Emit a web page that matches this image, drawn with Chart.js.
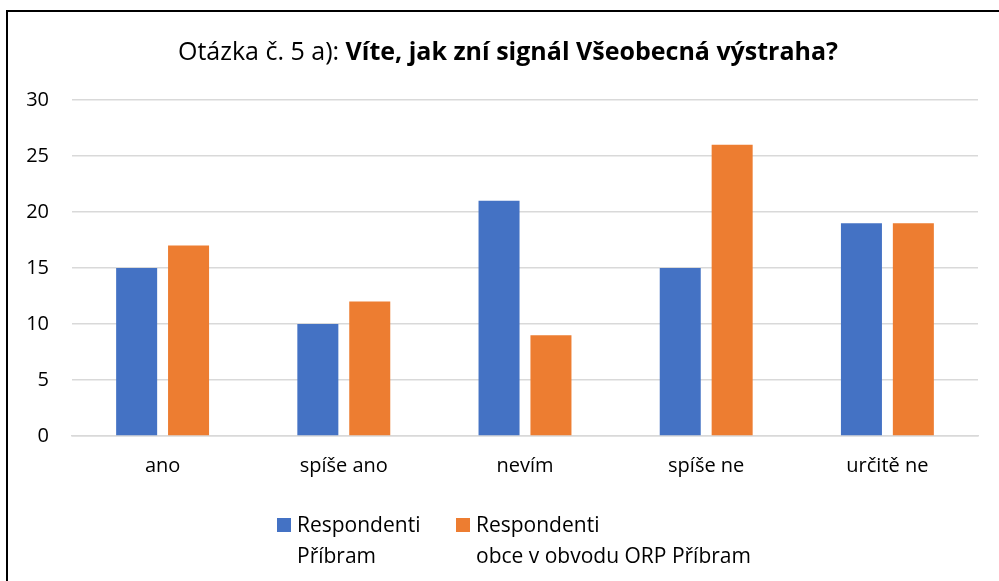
<!DOCTYPE html>
<html>
<head>
<meta charset="utf-8">
<script src="https://cdn.jsdelivr.net/npm/chart.js@4/dist/chart.umd.min.js"></script>
<style>
  html, body { margin: 0; padding: 0; background: #fff; }
  body { width: 999px; height: 581px; position: relative; overflow: hidden; font-family: "Open Sans", sans-serif; color: #000; }
  #frame { position: absolute; left: 6px; top: 10px; width: 1100px; height: 700px; border-left: 2px solid #000; border-top: 2px solid #000; }
  #wrap { position: absolute; left: 0; top: 0; width: 999px; height: 581px; }
  #title { position: absolute; left: 8px; width: 1000px; top: 33px; text-align: center; font-size: 25px; white-space: nowrap; }
  #title b { font-weight: bold; }
  .leg { position: absolute; top: 509px; font-size: 21px; line-height: 31px; white-space: nowrap; }
  .leg span.box { position: absolute; left: -20px; top: 9px; width: 14px; height: 14px; }
</style>
</head>
<body>
<div id="frame"></div>
<div id="wrap"><canvas id="barChart"></canvas></div>
<div id="title">Otázka č. 5 a): <b>Víte, jak zní signál Všeobecná výstraha?</b></div>
<div class="leg" style="left:297px"><span class="box" style="background:#4472C4"></span>Respondenti<br>Příbram</div>
<div class="leg" style="left:476px"><span class="box" style="background:#ED7D31"></span>Respondenti<br>obce v obvodu ORP Příbram</div>
<script>
var categories = ['ano', 'spíše ano', 'nevím', 'spíše ne', 'určitě ne'];
var seriesNames = ['Respondenti Příbram', 'Respondenti obce v obvodu ORP Příbram'];
var pribram = [15, 10, 21, 15, 19];
var obce = [17, 12, 9, 26, 19];
var yTicks = [0, 5, 10, 15, 20, 25, 30];

Chart.defaults.font.family = '"Open Sans", sans-serif';
Chart.defaults.color = '#000';

var ctx = document.getElementById('barChart').getContext('2d');
var barChart = new Chart(ctx, {
    type: 'bar',
    data: {
        labels: categories,
        datasets: [{
            label: seriesNames[0],
            data: pribram,
            backgroundColor: '#4472C4',
            barPercentage: 0.79,
            categoryPercentage: 0.573
        }, {
            label: seriesNames[1],
            data: obce,
            backgroundColor: '#ED7D31',
            barPercentage: 0.79,
            categoryPercentage: 0.573
        }]
    },
    options: {
        responsive: true,
        maintainAspectRatio: false,
        animation: false,
        layout: {
            padding: { top: 100, right: 21, bottom: 85, left: 0 }
        },
        plugins: {
            legend: { display: false },
            title: { display: false },
            tooltip: { enabled: false }
        },
        scales: {
            x: {
                grid: { display: false, drawTicks: false },
                border: { display: true, color: '#d9d9d9', width: 1.5 },
                ticks: { padding: 18, font: { size: 20 } },
                afterFit: function (axis) { axis.height = 60; }
            },
            y: {
                min: 0,
                max: 30,
                afterBuildTicks: function (axis) {
                    axis.ticks = yTicks.map(function (v) { return { value: v }; });
                },
                grid: { color: '#d9d9d9', lineWidth: 1.5, drawTicks: false },
                border: { display: false },
                ticks: { padding: 23, font: { size: 20 } },
                afterFit: function (axis) { axis.width = 72; }
            }
        }
    }
});
</script>
</body>
</html>
